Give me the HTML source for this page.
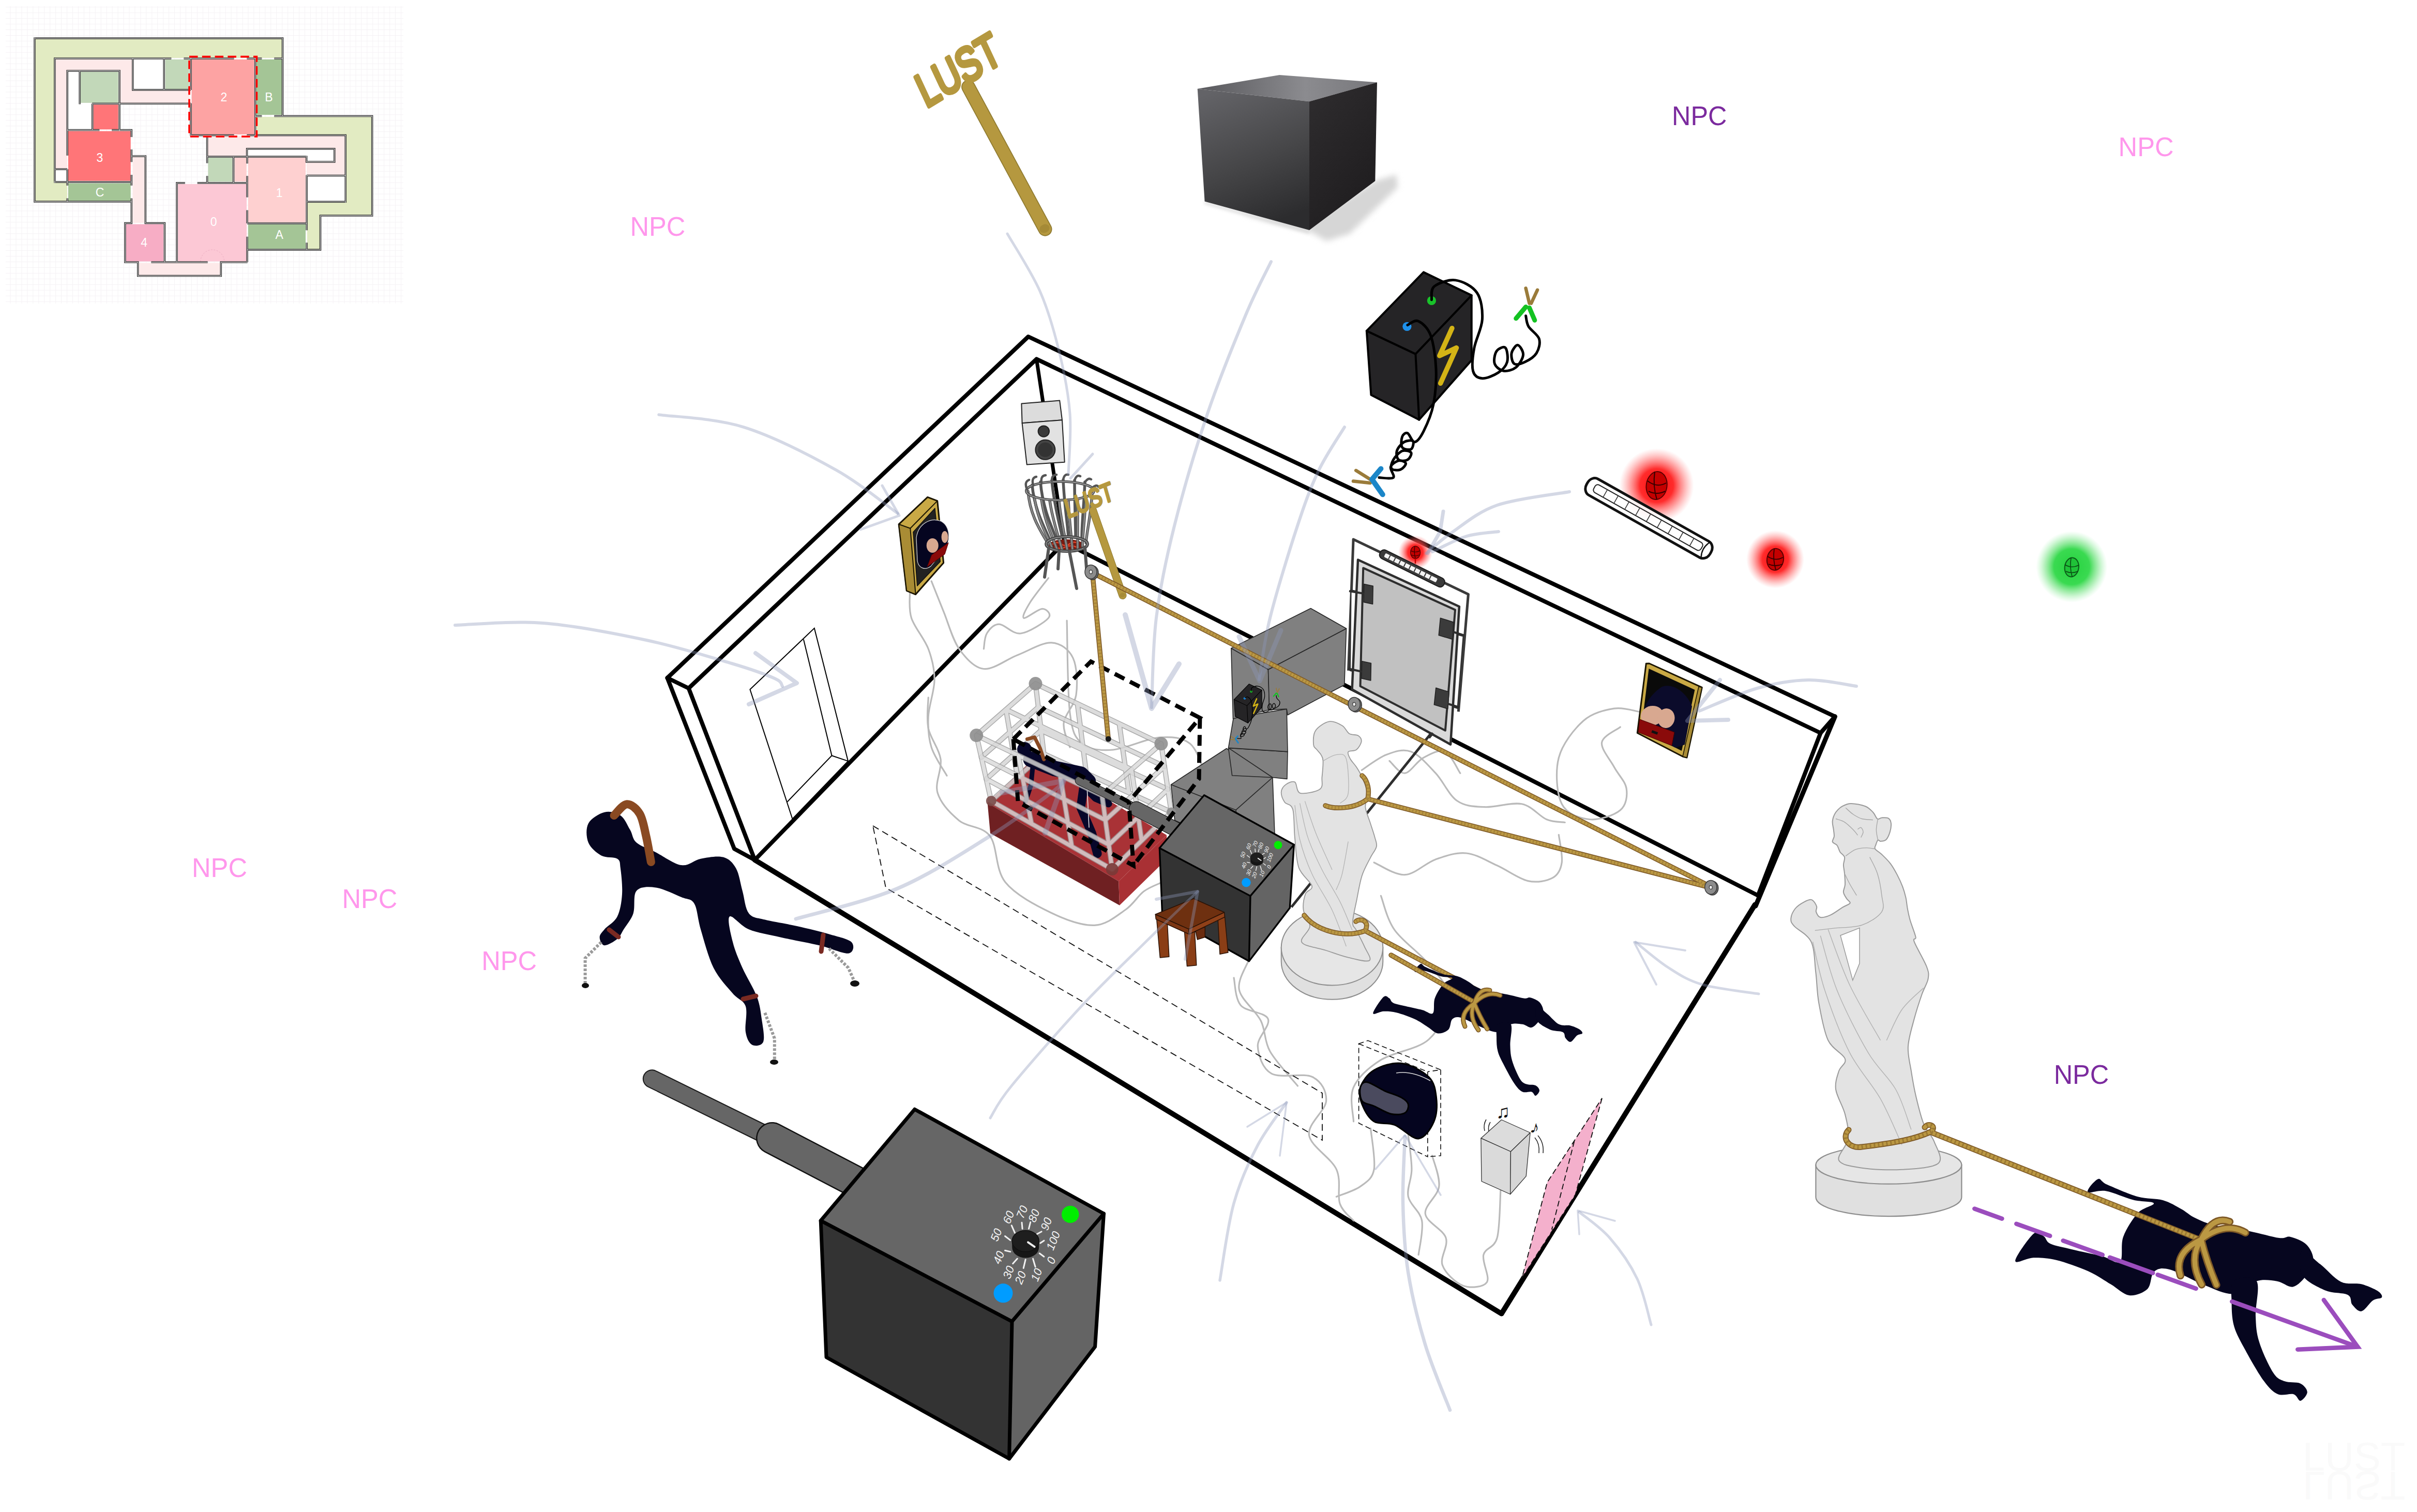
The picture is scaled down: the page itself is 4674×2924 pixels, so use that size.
<!DOCTYPE html>
<html><head><meta charset="utf-8"><title>Room 2 concept</title>
<style>
html,body{margin:0;padding:0;background:#fff}
body{width:4674px;height:2924px;overflow:hidden;position:relative;font-family:"Liberation Sans",sans-serif}
svg{position:absolute;left:0;top:0;display:block}
text{font-family:"Liberation Sans",sans-serif}
</style></head><body>
<svg width="4674" height="2924" viewBox="0 0 4674 2924">
<!-- MINIMAP -->
<defs>
  <pattern id="mgrid" x="8.6" y="2.3" width="10.95" height="10.95" patternUnits="userSpaceOnUse">
    <path d="M0.5 0V10.95M0 0.5H10.95" stroke="#f5f2f5" stroke-width="1" fill="none"/>
  </pattern>
</defs>
<g id="minimap">
  <rect x="11" y="12" width="769" height="575" fill="url(#mgrid)"/>
  <g fill="#e2ebc2">
    <polygon points="68,75 545.5,75 545.5,112 105.9,112 105.9,352 130,352 130,389 68,389"/>
    <polygon points="496,226 718.5,226 718.5,416 619.5,416 619.5,482 594,482 594,391 668.3,391 668.3,261.6 496,261.6"/>
  </g>
  <g fill="#fde9e9">
    <polygon points="107.5,114.5 255.5,114.5 255.5,175 366,175 366,199.5 232,199.5 232,137 130,137 130,326 107.5,326"/>
    <polygon points="402,263 667,263 667,338 593,338 593,313.5 647,313.5 647,287.5 477.6,287.5 477.6,302 402,302"/>
    <rect x="256.5" y="303.5" width="23" height="127.5"/>
    <rect x="268.4" y="508.5" width="157.2" height="23.5"/>
  </g>
  <g fill="#fff">
    <rect x="257.5" y="114.5" width="59.5" height="58.5"/>
    <rect x="131.5" y="138" width="98.5" height="112.5"/>
    <rect x="107.5" y="328" width="22" height="23"/>
    <polygon points="479,289 645.5,289 645.5,312 594,312 594,302 479,302"/>
    <rect x="594.5" y="340.5" width="72.5" height="49"/>
  </g>
  <g fill="#c2d8b9">
    <rect x="155.8" y="138.9" width="72.9" height="60"/>
    <rect x="319.7" y="114.9" width="46" height="57.2"/>
    <rect x="402.3" y="304.9" width="47.2" height="46.4"/>
  </g>
  <g fill="#a4c596">
    <rect x="495.6" y="114.9" width="49.3" height="107.2"/>
    <rect x="131.9" y="354.5" width="120.8" height="34"/>
    <rect x="479.8" y="434" width="111.2" height="46.9"/>
  </g>
  <rect x="370.6" y="114.9" width="120.8" height="145" fill="#fda3a3"/>
  <rect x="131.9" y="253.6" width="120.8" height="96" fill="#ff7578"/>
  <rect x="180.7" y="202.3" width="48" height="48" fill="#ff7578"/>
  <rect x="479.8" y="304.9" width="111.2" height="125.2" fill="#fed0d0"/>
  <rect x="453.6" y="304.9" width="23.2" height="46.1" fill="#fed0d0"/>
  <rect x="344.2" y="355.9" width="132.8" height="149.6" fill="#fcc8d5"/>
  <rect x="243.9" y="433.6" width="72.1" height="71.9" fill="#f7adc5"/>
  <path d="M387.7,506 A23,23 0 0 1 433.7,506" fill="none" stroke="#e7a6bd" stroke-width="0.8" stroke-dasharray="3 2.5"/>
  <g id="mwalls" fill="none" stroke-linejoin="miter" stroke-linecap="butt">
    <g id="mw1" stroke="#2b2b2b" stroke-width="3.5">
      <path id="mwp" d="M67,74H546.5V224.6H719.7V417.1H619.5V483H478.5 M478.5,507.1H427.3V533.6H266.7V507.1H241.9V431.5H254.3V390.1H67V72.3
      M105.9,353.7V112.9H331.3 M355.5,112.9H452.5 M477.4,112.9H506.3 M530.3,112.9H546.5
      M369,111.2V174.1 M369,199.8V263.2 M367.3,261.5H452.5 M477.4,261.5H668.3V392 M493.6,112.9V261.5 M493.6,224.6H506.3 M530.3,224.6H546.5
      M256.8,112.9V173.8H369 M317.2,112.9V173.8
      M130.2,300.8V136.9H231.1V253.3 M154.2,136.9V201.4 M178.2,200.6H369 M178.7,200.6V251.6
      M130.2,251.6H192.3 M216.2,251.6H254.3V265.1 M254.3,289.1V313.2 M254.3,338V358.7 M254.3,383.5V431.5
      M130.2,327.2V358.7 M130.2,383.5V390.1 M104.2,352H255 M105.9,327.2H130.2
      M254.3,301.9H281.3V431.5H318.4V507.1 M292.4,507.1H401.6 M342,507.1V353.7H357.8 M381.7,353.7H478
      M400.6,263.2V315.4 M400.6,340.2V353.7 M400.6,303H477.6 M451.5,303V353.9
      M478,303V316.2 M478,340.2V381.6 M478,406.4V432 M478,457.7V507.1 M478,432H592.7
      M593.2,338.5V445.3 M593.2,469.3V483 M593.2,339.4H668.3 M593.2,390.3H668.3
      M592.7,303H477.6V287.7H646.8V312.9H592.7V301.3"/>
    </g>
    <use href="#mwp" stroke="#d9d9d9" stroke-width="1.1"/>
  </g>
  <rect x="366" y="109.6" width="130.4" height="154.4" fill="none" stroke="#ff0000" stroke-width="3.6" stroke-dasharray="16.5 8.3"/>
  <g fill="#fff" font-size="23" text-anchor="middle" font-family="'Liberation Sans',sans-serif">
    <text x="433" y="196">2</text>
    <text x="520" y="196">B</text>
    <text x="193" y="313.2">3</text>
    <text x="193" y="380.2">C</text>
    <text x="540.2" y="380.7">1</text>
    <text x="413.2" y="436.5">0</text>
    <text x="540.2" y="461.5">A</text>
    <text x="278.6" y="477">4</text>
  </g>
</g>

<!-- ROOM OUTLINE -->
<g id="room" fill="none" stroke="#000" stroke-width="8" stroke-linejoin="round" stroke-linecap="round">
  <polyline points="1290.5,1311 1988.5,651 3548.4,1385.7"/>
  <polyline points="1331.7,1331 2004.4,694.4 3520.6,1417.5"/>
  <polyline points="1331.7,1331 1290.5,1311 1420,1641.6 1459.6,1663 1331.7,1331"/>
  <line x1="2004.4" y1="694.4" x2="2058" y2="1049" stroke-width="7"/>
  <polyline points="1459.6,1663 2058,1049 3399.6,1731.7"/>
  <polyline points="1459.6,1663 2903.6,2540.5 3393.7,1749.6" stroke-width="10"/>
  <polyline points="3548.4,1385.7 3395,1752" stroke-width="9"/>
  <polyline points="3548.4,1385.7 3520.6,1417.5 3399.6,1731.7"/>
</g>
<!-- door on left wall -->
<g id="door" fill="none" stroke="#000" stroke-width="2">
  <polygon points="1450.4,1333.3 1574.8,1214.9 1640,1471.9 1532.4,1583.7"/>
  <polyline points="1553.9,1236.4 1608.5,1461.3 1522.5,1550.6"/>
  <line x1="1608.5" y1="1461.3" x2="1640" y2="1471.9"/>
</g>

<!-- CUBE (top) -->
<defs>
  <linearGradient id="cubeTop" x1="0" y1="0" x2="1" y2="0">
    <stop offset="0" stop-color="#58585c"/><stop offset="0.6" stop-color="#8b8b8f"/><stop offset="1" stop-color="#77777b"/>
  </linearGradient>
  <linearGradient id="cubeLeft" x1="0.2" y1="0" x2="0.5" y2="1">
    <stop offset="0" stop-color="#636367"/><stop offset="0.55" stop-color="#464648"/><stop offset="1" stop-color="#2c2c2e"/>
  </linearGradient>
  <linearGradient id="cubeRight" x1="0" y1="0" x2="0.6" y2="1">
    <stop offset="0" stop-color="#2f2d2f"/><stop offset="1" stop-color="#1f1d1f"/>
  </linearGradient>
  <filter id="blur6" x="-20%" y="-20%" width="140%" height="140%"><feGaussianBlur stdDeviation="6"/></filter>
  <filter id="blur3" x="-20%" y="-20%" width="140%" height="140%"><feGaussianBlur stdDeviation="3"/></filter>
  <radialGradient id="glowR"><stop offset="0" stop-color="#ff1010" stop-opacity="1"/><stop offset="0.45" stop-color="#ff2020" stop-opacity="0.95"/><stop offset="0.7" stop-color="#ff5050" stop-opacity="0.55"/><stop offset="1" stop-color="#ff8080" stop-opacity="0"/></radialGradient>
  <radialGradient id="glowG"><stop offset="0" stop-color="#25d23e" stop-opacity="1"/><stop offset="0.5" stop-color="#30d848" stop-opacity="0.95"/><stop offset="0.75" stop-color="#60e070" stop-opacity="0.5"/><stop offset="1" stop-color="#90f0a0" stop-opacity="0"/></radialGradient>
</defs>
<g id="cube">
  <polygon points="2659,350 2700,338 2703,362 2610,452 2565,466 2532,447 2400,414 2532,430" fill="#d6d6d6" filter="url(#blur6)"/>
  <polygon points="2329.6,389.4 2532,444.9 2532,452 2329,394" fill="#d8d8d8" filter="url(#blur3)"/>
  <polygon points="2315.7,171.8 2474.1,144.9 2663,159.3 2532,196.3" fill="url(#cubeTop)"/>
  <polygon points="2315.7,171.8 2532,196.3 2532,444.9 2329.6,389.4" fill="url(#cubeLeft)"/>
  <polygon points="2532,196.3 2663,159.3 2659.3,350 2532,444.9" fill="url(#cubeRight)"/>
</g>
<!-- BRANDING IRON (top) -->
<g id="iron1">
  <line x1="1872.6" y1="168.1" x2="2021" y2="443.1" stroke="#8f7a30" stroke-width="27" stroke-linecap="round"/>
  <line x1="1872.6" y1="168.1" x2="2021" y2="443.1" stroke="#b5983f" stroke-width="23.5" stroke-linecap="round"/>
  <ellipse cx="2020" cy="442" rx="10" ry="8" fill="#a58a36" transform="rotate(-25 2020 442)"/>
  <text transform="translate(1791,209) rotate(-31) skewX(-6)" font-size="90" font-family="'Liberation Sans',sans-serif" fill="#b5983f" stroke="#b5983f" stroke-width="8" stroke-linejoin="round" textLength="176" lengthAdjust="spacingAndGlyphs">LUST</text>
</g>
<!-- BATTERY -->
<g id="battery1" stroke-linejoin="round" stroke-linecap="round">
  <polygon points="2752.9,526.4 2845.7,571.1 2845.7,696.6 2744.3,811.8 2651.4,763.7 2642.8,639.9" fill="#252426" stroke="#000" stroke-width="4"/>
  <polyline points="2642.8,639.9 2737.4,684.6 2845.7,571.1" fill="none" stroke="#000" stroke-width="4"/>
  <line x1="2737.4" y1="684.6" x2="2744.3" y2="811.8" stroke="#000" stroke-width="4"/>
  <polyline points="2807.9,634.7 2783.8,688.0 2816.5,672.6 2785.6,741.3" fill="none" stroke="#d4b416" stroke-width="9.5"/>
  <circle cx="2768.4" cy="581.4" r="8.6" fill="#19c22a"/>
  <circle cx="2720.9" cy="631.3" r="8.6" fill="#1e90ea"/>
  <path fill="none" stroke="#000" stroke-width="5" d="M2768.4,579.7C2769.2,575.4 2765.8,560.2 2773.5,553.9C2781.2,547.6 2801.0,539.9 2814.8,541.9C2828.6,543.9 2847.5,553.4 2856.1,566.0C2864.7,578.6 2867.3,599.8 2866.4,617.6C2865.5,635.4 2853.9,656.0 2850.9,672.6C2847.9,689.2 2845.9,707.4 2848.5,717.3C2851.1,727.1 2858.3,731.1 2866.4,731.7C2874.5,732.3 2889.3,726.0 2897.3,720.7C2905.3,715.4 2912.2,708.1 2914.5,700.1C2916.8,692.1 2914.5,676.1 2911.1,672.6C2907.7,669.1 2897.3,674.2 2893.9,679.4C2890.5,684.5 2888.1,697.2 2890.4,703.5C2892.7,709.8 2900.7,716.1 2907.6,717.3C2914.5,718.4 2925.4,715.6 2931.7,710.4C2938.0,705.2 2944.9,693.5 2945.5,686.3C2946.1,679.1 2938.8,668.0 2935.1,667.4C2931.4,666.8 2924.2,676.9 2923.1,682.9C2922.0,688.9 2924.0,700.6 2928.3,703.5C2932.6,706.4 2941.7,703.5 2948.9,700.1C2956.1,696.7 2966.7,690.4 2971.3,682.9C2975.9,675.4 2979.0,664.0 2976.4,655.4C2973.8,646.8 2960.1,638.8 2955.8,631.3C2951.5,623.8 2951.5,614.1 2950.6,610.7"/>
  <path fill="none" stroke="#000" stroke-width="5" d="M2721.9,628.6C2725.3,627.3 2735.2,617.7 2742.6,621.0C2750.0,624.3 2760.9,633.0 2766.6,648.5C2772.3,664.0 2776.1,691.4 2777.0,713.8C2777.9,736.1 2775.8,762.5 2771.8,782.6C2767.8,802.7 2758.9,822.2 2752.9,834.2C2746.9,846.2 2740.9,854.2 2735.7,854.8C2730.5,855.4 2725.9,839.3 2721.9,837.6C2717.9,835.9 2713.3,839.9 2711.6,844.5C2709.9,849.1 2708.7,861.1 2711.6,865.1C2714.5,869.1 2725.4,870.6 2728.8,868.6C2732.2,866.6 2734.6,855.4 2732.3,853.1C2730.0,850.8 2720.3,851.6 2715.1,854.8C2709.9,857.9 2703.0,866.3 2701.3,872.0C2699.6,877.7 2701.3,886.3 2704.7,889.2C2708.1,892.1 2717.9,891.5 2721.9,889.2C2725.9,886.9 2730.5,878.4 2728.8,875.5C2727.1,872.6 2717.3,869.7 2711.6,872.0C2705.9,874.3 2697.8,883.5 2694.4,889.2C2691.0,894.9 2688.7,903.2 2691.0,906.4C2693.3,909.5 2703.6,909.8 2708.2,908.1C2712.8,906.4 2719.1,899.0 2718.5,896.1C2717.9,893.2 2709.6,889.8 2704.7,890.9C2699.8,892.0 2691.0,897.5 2689.3,903.0C2687.6,908.5 2698.1,920.2 2694.4,923.6C2690.7,927.0 2671.5,923.6 2666.9,923.6"/>
  <!-- green clamp -->
  <g fill="none" stroke-width="6.5" stroke="#9a7b3a"><line x1="2950.6" y1="557.4" x2="2957.5" y2="586.6"/><line x1="2973" y1="560.8" x2="2961" y2="586.6"/></g>
  <g fill="none" stroke-width="9" stroke="#14c222"><line x1="2950.6" y1="593.5" x2="2931.7" y2="615.8"/><line x1="2957.5" y1="595.2" x2="2967.8" y2="619.3"/></g>
  <!-- blue clamp -->
  <g fill="none" stroke-width="6.5" stroke="#9a7b3a"><line x1="2622.2" y1="909.8" x2="2649.7" y2="927"/><line x1="2617" y1="930.5" x2="2649.7" y2="933.9"/></g>
  <polyline points="2670.4,906.4 2653.2,927 2673.8,956.3" fill="none" stroke="#1b86c8" stroke-width="10"/>
</g>
<!-- LED STRIP + LIGHTS -->
<g id="lights">
  <circle cx="3203.6" cy="939" r="72" fill="url(#glowR)"/>
  <g transform="translate(3076.1,939) rotate(29.35)">
    <rect x="-8" y="-18" width="274" height="36" rx="14" ry="16" fill="#fff" fill-opacity="0.85" stroke="#111" stroke-width="5"/>
    <rect x="8" y="-9" width="238" height="17" rx="6" fill="none" stroke="#222" stroke-width="2"/>
    <path d="M32,-9V8M56,-9V8M80,-9V8M104,-9V8M128,-9V8M152,-9V8M176,-9V8M200,-9V8M224,-9V8" stroke="#333" stroke-width="1.6" fill="none"/>
    <path d="M254,-16 Q246,0 254,16" stroke="#111" stroke-width="2.5" fill="none"/>
  </g>
  <g id="bulbR1"><ellipse cx="3203.6" cy="939" rx="20" ry="27" fill="#c40000" stroke="#5a0000" stroke-width="2" transform="rotate(8 3203.6 939)"/><path d="M3186,930 Q3204,944 3222,934 M3200,912 Q3196,940 3204,966 M3188,950 Q3204,958 3220,950" stroke="#300" stroke-width="2" fill="none"/></g>
  <circle cx="3433" cy="1081.7" r="56" fill="url(#glowR)"/>
  <g><ellipse cx="3433" cy="1081.7" rx="16" ry="21" fill="#c40000" stroke="#5a0000" stroke-width="2" transform="rotate(8 3433 1081.7)"/><path d="M3418,1076 Q3433,1086 3448,1078 M3431,1061 Q3428,1082 3434,1102 M3420,1091 Q3433,1097 3447,1091" stroke="#300" stroke-width="1.8" fill="none"/></g>
  <circle cx="4006.3" cy="1096" r="69" fill="url(#glowG)"/>
  <g><ellipse cx="4006.3" cy="1097" rx="13.5" ry="18.5" fill="#1fc238" stroke="#0b5a18" stroke-width="2" transform="rotate(8 4006.3 1097)"/><path d="M3993,1092 Q4006,1100 4020,1093 M4005,1079 Q4002,1097 4007,1115 M3995,1105 Q4006,1110 4018,1105" stroke="#0b4a14" stroke-width="1.6" fill="none"/></g>
</g>
<!-- NPC LABELS -->
<g id="npc" font-size="52.2" font-family="'Liberation Sans',sans-serif">
  <text x="3233" y="241.9" fill="#7b2a9e" textLength="106.5" lengthAdjust="spacingAndGlyphs">NPC</text>
  <text x="3971.7" y="2096.3" fill="#7b2a9e" textLength="106.5" lengthAdjust="spacingAndGlyphs">NPC</text>
  <text x="4096.6" y="302.2" fill="#ff97ec" textLength="107" lengthAdjust="spacingAndGlyphs">NPC</text>
  <text x="1218.4" y="456.3" fill="#ff97ec" textLength="107" lengthAdjust="spacingAndGlyphs">NPC</text>
  <text x="371" y="1696.1" fill="#ff97ec" textLength="107" lengthAdjust="spacingAndGlyphs">NPC</text>
  <text x="661.4" y="1756" fill="#ff97ec" textLength="107" lengthAdjust="spacingAndGlyphs">NPC</text>
  <text x="931.2" y="1875.9" fill="#ff97ec" textLength="107" lengthAdjust="spacingAndGlyphs">NPC</text>
</g>

<!-- WIRES -->
<g id="wires" fill="none" stroke="#bababa" stroke-width="3.2" stroke-linecap="round">
<path d="M1759.5,1144.6C1760.0,1153.0 1756.5,1176.8 1762.5,1195.2C1768.5,1213.6 1787.8,1235.0 1795.2,1254.8C1802.6,1274.6 1807.1,1292.5 1807.1,1314.3C1807.1,1336.1 1796.2,1363.9 1795.2,1385.7C1794.2,1407.5 1795.2,1426.2 1801.2,1445.2C1807.2,1464.2 1826.0,1490.9 1831.0,1500.0"/>
<path d="M1801.2,1123.8C1805.2,1133.7 1816.1,1161.5 1825.0,1183.3C1833.9,1205.1 1841.9,1236.4 1854.8,1254.8C1867.7,1273.2 1883.6,1291.5 1902.4,1293.5C1921.2,1295.5 1946.1,1275.1 1967.9,1266.7C1989.7,1258.3 2015.5,1241.9 2033.3,1242.9C2051.2,1243.9 2067.1,1255.8 2075.0,1272.6C2082.9,1289.4 2084.0,1323.2 2081.0,1344.0C2078.0,1364.8 2059.1,1380.7 2057.1,1397.6C2055.1,1414.5 2067.0,1437.3 2069.0,1445.2"/>
<path d="M2027.4,1117.9C2021.5,1125.8 1999.6,1152.6 1991.7,1165.5C1983.8,1178.4 1975.8,1193.2 1979.8,1195.2C1983.8,1197.2 2007.6,1177.4 2015.5,1177.4C2023.4,1177.4 2034.4,1187.3 2027.4,1195.2C2020.5,1203.1 1989.7,1223.0 1973.8,1225.0C1957.9,1227.0 1943.0,1207.1 1932.1,1207.1C1921.2,1207.1 1913.2,1217.0 1908.3,1225.0C1903.3,1233.0 1903.4,1249.8 1902.4,1254.8"/>
<path d="M1795.2,1348.8C1795.2,1358.7 1791.2,1388.4 1795.2,1408.3C1799.2,1428.2 1816.0,1447.1 1819.0,1467.9C1822.0,1488.7 1807.1,1513.5 1813.1,1533.3C1819.1,1553.1 1837.9,1573.0 1854.8,1586.9C1871.7,1600.8 1899.4,1596.9 1914.3,1616.7C1929.2,1636.5 1924.2,1681.2 1944.0,1706.0C1963.8,1730.8 2004.5,1751.6 2033.3,1765.5C2062.1,1779.4 2092.9,1790.3 2116.7,1789.3C2140.5,1788.3 2160.3,1770.4 2176.2,1759.5C2192.1,1748.6 2200.0,1732.7 2211.9,1723.8C2223.8,1714.9 2241.7,1709.0 2247.6,1706.0"/>
<path d="M2063.1,1200.0C2064.1,1229.8 2064.0,1338.9 2069.0,1378.6C2074.0,1418.3 2079.0,1426.2 2092.9,1438.1C2106.8,1450.0 2127.6,1452.0 2152.4,1450.0C2177.2,1448.0 2216.9,1428.2 2241.7,1426.2C2266.5,1424.2 2286.3,1426.2 2301.2,1438.1C2316.1,1450.0 2326.0,1487.7 2331.0,1497.6"/>
<path d="M2414.3,1857.7C2411.3,1867.1 2392.4,1895.0 2396.4,1914.3C2400.4,1933.6 2428.2,1954.0 2438.1,1973.8C2448.0,1993.6 2444.1,2012.3 2456.0,2033.3C2467.9,2054.3 2500.6,2088.9 2509.5,2100.0"/>
<path d="M3169.0,1376.2C3161.1,1375.2 3139.2,1367.2 3121.4,1370.2C3103.6,1373.2 3079.8,1378.1 3061.9,1394.0C3044.1,1409.9 3021.2,1438.7 3014.3,1465.5C3007.4,1492.3 3010.3,1535.0 3020.2,1554.8C3030.1,1574.6 3055.0,1582.5 3073.8,1584.5C3092.7,1586.5 3121.4,1576.6 3133.3,1566.7C3145.2,1556.8 3147.2,1538.9 3145.2,1525.0C3143.2,1511.1 3129.3,1498.2 3121.4,1483.3C3113.5,1468.4 3095.6,1448.6 3097.6,1435.7C3099.6,1422.8 3127.4,1411.0 3133.3,1406.0"/>
<path d="M2633.3,1489.3C2641.2,1484.3 2665.1,1465.5 2681.0,1459.5C2696.9,1453.5 2712.7,1447.6 2728.6,1453.6C2744.5,1459.5 2761.3,1479.3 2776.2,1495.2C2791.1,1511.1 2802.0,1537.9 2817.9,1548.8C2833.8,1559.7 2850.6,1559.7 2871.4,1560.7C2892.2,1561.7 2923.1,1550.8 2942.9,1554.8C2962.8,1558.8 2976.6,1578.5 2990.5,1584.5C3004.4,1590.5 3020.2,1589.5 3026.2,1590.5"/>
<path d="M2657.1,1667.9C2667.0,1671.9 2696.8,1692.7 2716.7,1691.7C2736.5,1690.7 2756.4,1668.9 2776.2,1661.9C2796.0,1655.0 2815.9,1648.0 2835.7,1650.0C2855.5,1652.0 2875.3,1664.9 2895.2,1673.8C2915.0,1682.7 2936.9,1699.6 2954.8,1703.6C2972.7,1707.6 2991.5,1703.5 3002.4,1697.6C3013.3,1691.6 3018.2,1681.8 3020.2,1667.9C3022.2,1654.0 3015.3,1623.2 3014.3,1614.3"/>
<path d="M2686.9,1471.4C2691.9,1475.4 2705.8,1496.2 2716.7,1495.2C2727.6,1494.2 2739.5,1472.4 2752.4,1465.5C2765.3,1458.6 2782.1,1448.6 2794.0,1453.6C2805.9,1458.5 2818.8,1488.3 2823.8,1495.2"/>
<path d="M2386.0,1891.0C2388.2,1899.8 2388.2,1930.7 2399.2,1943.9C2410.2,1957.1 2446.6,1957.2 2452.1,1970.4C2457.6,1983.6 2431.2,2005.7 2432.3,2023.3C2433.4,2040.9 2441.1,2066.3 2458.7,2076.2C2476.3,2086.1 2520.4,2074.0 2538.1,2082.8C2555.8,2091.6 2565.7,2110.4 2564.6,2129.1C2563.5,2147.8 2528.2,2173.1 2531.5,2195.2C2534.8,2217.2 2574.5,2239.3 2584.4,2261.4C2594.3,2283.5 2585.5,2311.0 2591.0,2327.5C2596.5,2344.0 2613.1,2355.1 2617.5,2360.6"/>
<path d="M2670.4,1732.3C2674.8,1743.3 2681.4,1776.4 2696.8,1798.4C2712.2,1820.5 2745.4,1842.5 2763.0,1864.6C2780.6,1886.6 2802.6,1906.5 2802.6,1930.7C2802.6,1955.0 2785.0,1990.3 2763.0,2010.1C2741.0,2029.9 2694.7,2034.3 2670.4,2049.7C2646.2,2065.1 2626.3,2082.8 2617.5,2102.6C2608.7,2122.4 2617.5,2157.8 2617.5,2168.8"/>
<path d="M2650.5,2182.0C2651.6,2195.2 2660.4,2242.7 2657.1,2261.4C2653.8,2280.1 2642.8,2285.6 2630.7,2294.4C2618.6,2303.2 2592.1,2311.0 2584.4,2314.3"/>
<path d="M2769.6,2234.9C2771.8,2244.8 2785.0,2275.7 2782.8,2294.4C2780.6,2313.2 2754.1,2330.9 2756.3,2347.4C2758.5,2363.9 2790.5,2377.2 2796.0,2393.7C2801.5,2410.2 2783.9,2431.2 2789.4,2446.6C2794.9,2462.0 2814.8,2480.7 2829.1,2486.2C2843.4,2491.7 2868.8,2489.5 2875.4,2479.6C2882.0,2469.7 2865.5,2441.0 2868.8,2426.7C2872.1,2412.4 2889.7,2414.6 2895.2,2393.7C2900.7,2372.8 2900.8,2316.5 2901.9,2301.1"/>
<path d="M2723.3,2195.2C2724.4,2206.2 2729.9,2241.6 2729.9,2261.4C2729.9,2281.2 2720.0,2297.8 2723.3,2314.3C2726.6,2330.8 2746.4,2341.9 2749.7,2360.6C2753.0,2379.3 2744.2,2415.7 2743.1,2426.7"/>
</g>

<!-- ROOM OBJECTS A: speaker, basket, iron2, paintings, duct, door -->
<defs>
  <g id="rope-def"></g>
</defs>
<!-- speaker -->
<g id="speaker" stroke="#222" stroke-width="2" stroke-linejoin="round">
  <polygon points="1975.4,780.6 2049.2,774.6 2054,812.3 1976.6,818.3" fill="#dcdcdc"/>
  <polygon points="1976.6,818.3 2054,812.3 2058.7,893.7 1985.7,898.4" fill="#e2e2e2"/>
  <circle cx="2018.3" cy="834.1" r="10.7" fill="#3a3a3a"/>
  <circle cx="2021.4" cy="869.8" r="19" fill="#444"/>
  <circle cx="2021.4" cy="869.8" r="14" fill="#333" stroke="none"/>
</g>
<!-- fire basket -->
<g id="basket" fill="none" stroke-linecap="round">
  <ellipse cx="2062" cy="1054" rx="34" ry="11" fill="#7a1a10" stroke="none"/>
  <path d="M2036,1052q8,-6 16,0t16,0t16,-2M2040,1058q10,5 20,0t22,0" stroke="#e0452a" stroke-width="2.5"/>
  <g stroke="#555" stroke-width="5.5">
    <path d="M1988,950 C1992,1000 2015,1030 2027,1052"/><path d="M2000,960 C2006,1005 2025,1035 2034,1058"/>
    <path d="M2014,966 C2020,1010 2036,1040 2044,1062"/><path d="M2030,968 C2036,1010 2048,1040 2054,1064"/>
    <path d="M2048,969 C2052,1010 2060,1040 2064,1064"/><path d="M2066,968 C2068,1010 2072,1040 2074,1063"/>
    <path d="M2084,965 C2084,1005 2084,1035 2084,1060"/><path d="M2100,960 C2098,1000 2094,1030 2093,1056"/>
    <path d="M2112,952 C2110,995 2102,1025 2100,1050"/>
    <path d="M1996,938 C2000,985 2020,1020 2030,1044"/><path d="M2012,932 C2016,980 2032,1015 2042,1040"/>
    <path d="M2034,929 C2038,975 2048,1010 2054,1038"/><path d="M2056,928 C2058,975 2064,1010 2066,1038"/>
    <path d="M2078,929 C2078,975 2080,1010 2080,1038"/><path d="M2098,932 C2096,980 2092,1010 2092,1040"/>
  </g>
  <g stroke="#8c8c8c" stroke-width="2.5">
    <path d="M1988,950 C1992,1000 2015,1030 2027,1052"/><path d="M2000,960 C2006,1005 2025,1035 2034,1058"/>
    <path d="M2014,966 C2020,1010 2036,1040 2044,1062"/><path d="M2030,968 C2036,1010 2048,1040 2054,1064"/>
    <path d="M2048,969 C2052,1010 2060,1040 2064,1064"/><path d="M2066,968 C2068,1010 2072,1040 2074,1063"/>
    <path d="M2084,965 C2084,1005 2084,1035 2084,1060"/><path d="M2100,960 C2098,1000 2094,1030 2093,1056"/>
    <path d="M2112,952 C2110,995 2102,1025 2100,1050"/>
  </g>
  <ellipse cx="2050" cy="949.2" rx="65.5" ry="18" stroke="#4a4a4a" stroke-width="5"/>
  <ellipse cx="2050" cy="949.2" rx="65.5" ry="18" stroke="#999" stroke-width="2"/>
  <ellipse cx="2063" cy="1052" rx="40" ry="14" stroke="#444" stroke-width="6"/>
  <ellipse cx="2063" cy="1052" rx="40" ry="14" stroke="#888" stroke-width="2"/>
  <g stroke="#555" stroke-width="6"><path d="M2028,1060 L2020,1116"/><path d="M2068,1066 L2082,1138"/><path d="M2098,1058 L2102,1112"/><path d="M2048,1066 L2046,1100"/></g>
  <g stroke="#555" stroke-width="4.5"><path d="M1986,946q-6,-14 4,-18M1998,938q-4,-14 6,-16M2014,933q-2,-13 8,-14M2034,930q0,-12 9,-12M2056,928q2,-12 10,-10M2078,929q4,-12 11,-8M2098,933q6,-10 12,-6M2112,944q8,-8 12,-3"/></g>
</g>
<!-- iron 2 in basket -->
<use href="#iron1" transform="translate(2113.5,986.9) rotate(9.1) scale(0.558) translate(-1872.6,-168.1)"/>
<!-- painting left -->
<g id="paintL" stroke-linejoin="round">
  <polygon points="1738.1,1013.8 1793.7,961.4 1812.7,968.6 1824.6,1088.4 1770.6,1149.5 1753.2,1142.4" fill="#c9a945" stroke="#1a1400" stroke-width="3"/>
  <polygon points="1738.1,1013.8 1760.3,1021.7 1770.6,1149.5 1753.2,1142.4" fill="#a98c35" stroke="#1a1400" stroke-width="2"/>
  <polyline points="1760.3,1021.7 1812.7,968.6" fill="none" stroke="#1a1400" stroke-width="2"/>
  <polygon points="1765.9,1028.9 1807.9,982.9 1818.3,1086 1773.8,1132.9" fill="#222" stroke="#111" stroke-width="1.5"/>
  <path d="M1772,1040 C1776,1012 1800,1000 1820,1008 C1838,1018 1838,1045 1828,1060 L1800,1095 C1788,1104 1776,1098 1774,1084 Z" fill="#050520" stroke="#ddd" stroke-width="1.2"/>
  <ellipse cx="1803.2" cy="1055" rx="11.5" ry="14" fill="#d8a890"/>
  <ellipse cx="1827" cy="1038.4" rx="6.5" ry="11.5" fill="#d8a890"/>
  <polygon points="1801.6,1073.3 1834.1,1049.5 1827,1071.7 1792.9,1096.3" fill="#8a0a0a" stroke="#500" stroke-width="1"/>
</g>
<!-- painting right -->
<g id="paintR" stroke-linejoin="round">
  <polygon points="3183.3,1283.3 3189.3,1283 3291.3,1329.4 3262,1465.1 3254,1463 3166.3,1417.5" fill="#c9a945" stroke="#1a1400" stroke-width="3"/>
  <polygon points="3285,1328 3291.3,1329.4 3262,1465.1 3254,1463" fill="#a98c35" stroke="#1a1400" stroke-width="1.5"/>
  <polygon points="3188.5,1293 3277.4,1334 3252,1452 3173.8,1412.7" fill="#0a0a0a"/>
  <path d="M3176,1390 C3178,1360 3196,1340 3214,1328 C3236,1320 3262,1340 3272,1366 L3258,1440 L3240,1446 L3176,1412 Z" fill="#0b0b2b"/>
  <ellipse cx="3195" cy="1384" rx="22" ry="19" fill="#d8a890" transform="rotate(-10 3195 1384)"/>
  <ellipse cx="3222" cy="1389" rx="16.5" ry="19" fill="#d8a890" transform="rotate(8 3222 1389)"/>
  <polygon points="3170.6,1391 3238,1416 3233,1442 3168,1416" fill="#8a0a0a" stroke="#400" stroke-width="1"/>
  <rect x="3194" y="1414" width="12" height="5" fill="#111" transform="rotate(20 3200 1416)"/>
</g>
<!-- gray duct -->
<g id="duct" fill="#808080" stroke="#262626" stroke-width="1.6" stroke-linejoin="round">
  <polygon points="2264.5,1517.3 2371.8,1447.5 2460.9,1503.5 2465.3,1622.7 2395.5,1622.7 2284,1592 2271.8,1586.4"/>
  <polyline points="2264.5,1517.3 2390.0,1566.4 2460.9,1503.5" fill="none"/>
  <line x1="2390" y1="1566.4" x2="2393" y2="1600"/>
  <polygon points="2375.5,1446.4 2490.0,1453.6 2488.9,1506.4 2460.9,1503.5 2382.7,1499.8"/>
  <line x1="2375.5" y1="1446.4" x2="2460.9" y2="1503.5"/>
  <polygon points="2385.3,1388.2 2488.2,1371.1 2490.0,1453.6 2375.5,1446.4"/>
  <polygon points="2380.9,1253.6 2452.5,1294.7 2454.7,1372.5 2384.5,1390.0"/>
  <polygon points="2452.5,1294.7 2603.5,1215.5 2599.8,1324.5 2490.0,1382.7 2488.2,1371.1 2454.7,1372.5"/>
  <polygon points="2380.9,1253.6 2534.7,1176.5 2603.5,1215.5 2452.5,1294.7"/>
</g>
<use href="#battery1" transform="translate(2415.5,1322.7) scale(0.265) translate(-2752.9,-526.4)"/>
<!-- door on back wall -->
<g id="mdoor" stroke-linejoin="round">
  <polyline points="2607.6,1296.8 2617.1,1042.9 2839.4,1149.2 2820.3,1376.2" fill="none" stroke="#3a3a3a" stroke-width="5"/>
  <polygon points="2612.4,1141.3 2628.3,1144.4 2625.1,1300.0 2610.8,1296.8" fill="#fff" stroke="#333" stroke-width="2.5"/>
  <polygon points="2814.0,1226.0 2829.8,1230.2 2818.7,1369.8 2804.4,1365.1" fill="#fff" stroke="#333" stroke-width="2.5"/>
  <polygon points="2626.0,1082.5 2821.9,1173.0 2805.1,1439.7 2614.6,1333.3" fill="#dadada" stroke="#2e2e2e" stroke-width="4.5"/>
  <polygon points="2636.2,1098.4 2814.0,1179.4 2794.9,1412.7 2630.5,1327.0" fill="#c1c1c1" stroke="#2e2e2e" stroke-width="4"/>
  <g fill="#3b3b3b" stroke="#222" stroke-width="1.5">
    <polygon points="2637.8,1129.5 2655.2,1133.3 2654.6,1168.3 2637.1,1164.4"/>
    <polygon points="2633.7,1278.7 2651.4,1282.5 2650.8,1315.9 2633.0,1312.1"/>
    <polygon points="2785.4,1195.2 2810.8,1203.2 2809.2,1236.5 2782.2,1228.6"/>
    <polygon points="2776.8,1330.2 2802.2,1338.1 2799.7,1370.8 2773.3,1362.9"/>
  </g>
  <g stroke="#2e2e2e" stroke-width="4"><line x1="2609" y1="1143" x2="2638" y2="1148"/><line x1="2607" y1="1293" x2="2634" y2="1299"/><line x1="2810" y1="1222" x2="2832" y2="1229"/><line x1="2800" y1="1361" x2="2822" y2="1368"/></g>
  <circle cx="2737.1" cy="1068.3" r="33" fill="url(#glowR)"/>
  <g transform="translate(2674.3,1071.4) rotate(26.25)">
    <rect x="-6" y="-9" width="138" height="18" rx="8" fill="#3a3a3a" stroke="#1c1c1c" stroke-width="2"/>
    <rect x="4" y="-4" width="112" height="8" rx="2" fill="#f4f4f4"/>
    <path d="M14,-4V4M25,-4V4M36,-4V4M47,-4V4M58,-4V4M69,-4V4M80,-4V4M91,-4V4M102,-4V4" stroke="#333" stroke-width="2"/>
  </g>
  <ellipse cx="2737.1" cy="1068.3" rx="9.5" ry="12" fill="#c40000" stroke="#5a0000" stroke-width="1.5"/>
  <path d="M2728,1065q9,5 18,0M2736,1056q-2,12 1,24M2729,1073q8,4 16,0" stroke="#300" stroke-width="1.2" fill="none"/>
  <line x1="2737" y1="1080" x2="2737" y2="1090" stroke="#c40000" stroke-width="2.5"/>
</g>

<!-- ROOM OBJECTS B: leg line, platform, cage, figure, rod, dashed, ctrl small, stool, statue, ropes -->
<defs>
  <g id="pulley">
    <ellipse cx="3" cy="1.5" rx="11.5" ry="13.5" fill="#6a6a6a" stroke="#3a3a3a" stroke-width="1.5"/>
    <ellipse cx="0" cy="0" rx="11.5" ry="13.5" fill="#8c8c8c" stroke="#3a3a3a" stroke-width="1.5"/>
    <ellipse cx="0" cy="0" rx="3" ry="3.6" fill="#eee" stroke="#333" stroke-width="1.2"/>
  </g>
</defs>
<!-- strut from door to control box -->
<line x1="2768" y1="1417.5" x2="2497.3" y2="1754.3" stroke="#2e2e2e" stroke-width="5"/>
<polyline points="2771.1,1417.5 2763.2,1427.0" stroke="#2e2e2e" stroke-width="5" fill="none"/>
<!-- platform -->
<g id="platform" stroke-linejoin="round">
  <polygon points="1909.6,1552.5 2002.5,1463.2 2256.1,1615.0 2163.2,1704.3" fill="#a93236"/>
  <polygon points="1909.6,1552.5 2163.2,1704.3 2165.0,1750.7 1915.0,1611.4" fill="#6f2022"/>
  <polygon points="2163.2,1704.3 2256.1,1615.0 2256.1,1661.4 2165.0,1750.7" fill="#a93034"/>
</g>
<!-- cage back -->
<g id="cageback" fill="none" stroke-linecap="round" opacity="0.85">
 <g stroke="#9c9c9c" stroke-width="10">
  <path id="cgb" d="M2002.5,1322.1L2245.4,1438.2M1888.2,1422.1L2002.5,1322.1M2002.5,1322.1L2018.6,1457.9M2018.6,1457.9L2265.0,1570.4M1916.8,1548.9L2018.6,1457.9M2007.9,1367.4L2251.9,1482.3M2013.2,1412.6L2258.5,1526.3M2083.5,1360.8L2100.7,1495.4M2164.4,1399.5L2182.9,1532.9M1897.7,1464.4L2007.9,1367.4M1907.3,1506.6L2013.2,1412.6M1945.3,1372.1L1967.7,1503.4M1945.3,1372.1L2188.2,1488.2"/></g>
  <use href="#cgb" stroke="#d6d6d6" stroke-width="7"/>
</g>
<!-- abstract figure in cage -->
<g id="figcage" fill="none" stroke="#07072a" stroke-linecap="round" stroke-linejoin="round">
  <polyline points="1993.6,1468.6 2040.0,1486.4 2090.0,1497.1 2104.3,1511.4" stroke-width="30"/>
  <polyline points="2097.1,1511.4 2090.0,1561.4 2111.4,1611.4 2122.1,1650.7" stroke-width="17"/>
  <polyline points="2090.0,1515.0 2118.6,1543.6 2143.6,1554.3" stroke-width="14"/>
  <polyline points="1997.1,1482.9 1993.6,1518.6 1982.9,1550.7" stroke-width="9"/>
  <circle cx="1981.1" cy="1448.9" r="14" fill="#07072a" stroke="none"/>
  <polyline points="1986.4,1429.3 2000.7,1425.7 2011.4,1447.1 2018.6,1468.6" stroke="#8a4a22" stroke-width="7"/>
  <line x1="2102" y1="1520" x2="2106" y2="1600" stroke="#eee" stroke-width="1.5"/>
</g>
<!-- rod from small control box (thin part) -->
<g>
  <line x1="2087.3" y1="1509.7" x2="2200" y2="1565" stroke="#222" stroke-width="17" stroke-linecap="round"/>
  <line x1="2087.3" y1="1509.7" x2="2200" y2="1565" stroke="#666" stroke-width="14.5" stroke-linecap="round"/>
</g>
<!-- cage front -->
<g id="cagefront" fill="none" stroke-linecap="round" opacity="0.82">
 <g stroke="#9c9c9c" stroke-width="10">
  <path id="cgf" d="M1888.2,1422.1L2131.1,1538.2M2131.1,1538.2L2245.4,1438.2M1888.2,1422.1L1916.8,1548.9M2131.1,1538.2L2150.7,1681.1M2245.4,1438.2L2265.0,1570.4M1916.8,1548.9L2150.7,1681.1M2150.7,1681.1L2265.0,1570.4M1897.7,1464.4L2137.6,1585.8M1907.3,1506.6L2144.2,1633.5M1969.2,1460.8L1994.8,1593.0M2050.1,1499.5L2072.7,1637.0M2137.6,1585.8L2251.9,1482.3M2144.2,1633.5L2258.5,1526.3M2188.2,1488.2L2207.8,1625.8"/></g>
  <use href="#cgf" stroke="#dadada" stroke-width="7"/>
</g>
<g fill="#8f8f8f" opacity="0.9">
  <circle cx="1888.2" cy="1422.1" r="13"/><circle cx="2002.5" cy="1322.1" r="13"/><circle cx="2245.4" cy="1438.2" r="13"/>
  <circle cx="1916.8" cy="1548.9" r="10" fill="#7a4a48"/><circle cx="2150.7" cy="1681.1" r="12" fill="#7a3a38"/><circle cx="2265" cy="1570.4" r="9"/>
</g>
<!-- thick rod + small control box -->
<use href="#ctrlbox" transform="translate(2328.6,1537.7) scale(0.475) translate(-1768.8,-2145.2)"/>
<!-- dashed black box -->
<g fill="none" stroke="#000" stroke-width="8" stroke-dasharray="21 12" stroke-linejoin="miter">
  <polygon points="1959.6,1429.3 2109.6,1279.3 2320.4,1388.2 2182.9,1550.7"/>
  <polyline points="1959.6,1429.3 1968.6,1550.7 2191.8,1673.9 2182.9,1550.7"/>
  <polyline points="2320.4,1388.2 2318.6,1506.1 2191.8,1673.9"/>
</g>
<!-- stool -->
<g id="stool" stroke="#2a1206" stroke-width="1.5" stroke-linejoin="round">
  <polygon points="2312.1,1800.6 2330.3,1792.3 2330.3,1812.2 2315.4,1817.1" fill="#6a2c10"/>
  <polygon points="2236.7,1777.5 2257.5,1786.7 2260.8,1850.2 2243.3,1851.9" fill="#8a3e16"/>
  <polygon points="2290.6,1802.3 2299.5,1806.6 2310.4,1801.3 2313.7,1866.8 2295.5,1868.4" fill="#8a3e16"/>
  <polygon points="2355.1,1775.8 2368.3,1770.2 2374.9,1842.0 2359.0,1845.3" fill="#8a3e16"/>
  <polygon points="2234.3,1768.2 2298.8,1796.6 2299.5,1806.6 2235.3,1777.5" fill="#7c3613"/>
  <polygon points="2298.8,1796.6 2367.6,1764.2 2368.3,1773.5 2299.5,1806.6" fill="#8f4018"/>
  <polygon points="2234.3,1768.2 2308.1,1737.8 2367.6,1764.2 2298.8,1796.6" fill="#6e3010"/>
</g>
<!-- statue in room -->
<g id="statueR">
  <path d="M2477.7,1832.2 v27.3 a98.3,73.3 0 0 0 196.6,0 v-27.3 z" fill="#e0e0e0" stroke="#8e8e8e" stroke-width="2"/>
  <ellipse cx="2576" cy="1832.2" rx="98.3" ry="73.3" fill="#e6e6e6" stroke="#8e8e8e" stroke-width="2"/>
  <path d="M2570.2,1395.4C2578.8,1393.8 2589.0,1399.3 2595.5,1403.2C2602.0,1407.1 2604.0,1415.5 2609.2,1418.8C2614.4,1422.0 2622.8,1420.1 2626.7,1422.7C2630.6,1425.3 2633.2,1429.9 2632.6,1434.4C2631.9,1439.0 2627.0,1446.8 2622.8,1450.0C2618.6,1453.2 2609.1,1451.0 2607.2,1453.9C2605.2,1456.8 2608.5,1462.6 2611.1,1467.5C2613.7,1472.4 2619.0,1477.2 2622.8,1483.1C2626.6,1488.9 2630.1,1494.1 2633.7,1502.6C2637.3,1511.0 2643.2,1524.0 2644.3,1533.8C2645.4,1543.5 2639.4,1551.3 2640.4,1561.1C2641.4,1570.8 2647.1,1582.5 2650.1,1592.3C2653.1,1602.0 2656.8,1612.1 2658.7,1619.6C2660.6,1627.1 2663.2,1630.7 2661.8,1637.2C2660.4,1643.7 2654.8,1649.2 2650.1,1658.6C2645.4,1668.0 2638.1,1680.0 2633.7,1693.7C2629.3,1707.4 2626.6,1725.5 2623.6,1740.5C2620.6,1755.5 2615.9,1773.7 2615.8,1783.4C2615.7,1793.2 2619.0,1791.2 2622.8,1799.0C2626.6,1806.8 2634.2,1820.5 2638.4,1830.2C2642.6,1840.0 2653.4,1853.9 2648.2,1857.5C2643.0,1861.1 2621.2,1855.0 2607.2,1851.7C2593.2,1848.5 2579.2,1842.9 2564.3,1838.0C2549.4,1833.1 2522.7,1830.2 2517.5,1822.4C2512.3,1814.6 2532.6,1801.6 2533.1,1791.2C2533.6,1780.8 2522.0,1770.4 2520.6,1760.0C2519.2,1749.6 2521.8,1736.6 2524.5,1728.8C2527.2,1721.0 2539.1,1721.7 2537.0,1713.2C2534.9,1704.8 2517.2,1693.7 2511.7,1678.1C2506.2,1662.5 2505.8,1638.4 2503.9,1619.6C2502.0,1600.8 2503.2,1576.4 2500.0,1565.0C2496.8,1553.6 2488.1,1556.9 2484.4,1551.4C2480.7,1545.9 2477.4,1537.6 2477.7,1531.9C2478.0,1526.2 2481.9,1520.7 2486.3,1517.4C2490.7,1514.2 2499.2,1509.7 2503.9,1512.4C2508.6,1515.1 2506.3,1531.5 2514.4,1533.8C2522.5,1536.1 2545.6,1531.2 2552.6,1526.0C2559.6,1520.8 2555.5,1511.7 2556.5,1502.6C2557.5,1493.5 2558.8,1478.6 2558.5,1471.4C2558.2,1464.2 2556.5,1463.3 2554.6,1459.7C2552.7,1456.1 2549.2,1453.2 2546.8,1450.0C2544.4,1446.8 2540.6,1446.4 2540.1,1440.2C2539.6,1434.0 2539.0,1420.4 2544.0,1412.9C2549.0,1405.4 2561.6,1397.0 2570.2,1395.4Z" fill="#e3e3e3" stroke="#9a9a9a" stroke-width="1.8"/>
  <g fill="none" stroke="#b4b4b4" stroke-width="1.3">
    <path d="M2503.9,1557.2C2505.5,1568.2 2508.1,1601.4 2513.6,1623.5C2519.1,1645.6 2526.6,1667.0 2537.0,1689.8C2547.4,1712.5 2564.9,1736.6 2576.0,1760.0C2587.1,1783.4 2598.8,1818.5 2603.3,1830.2"/>
    <path d="M2513.6,1553.3C2516.2,1564.3 2522.0,1598.1 2529.2,1619.6C2536.3,1641.0 2546.1,1661.2 2556.5,1682.0C2566.9,1702.8 2581.8,1724.9 2591.6,1744.4C2601.3,1763.9 2611.1,1789.9 2615.0,1799.0"/>
    <path d="M2523.4,1549.4C2527.0,1559.8 2536.0,1589.7 2544.8,1611.8C2553.6,1633.9 2570.8,1670.3 2576.0,1682.0"/>
    <path d="M2607.2,1627.4C2605.2,1637.8 2599.4,1674.2 2595.5,1689.8C2591.6,1705.4 2585.8,1715.8 2583.8,1721.0"/>
    <path d="M2558.5,1471.4C2562.7,1469.5 2576.3,1460.4 2583.8,1459.7C2591.3,1459.0 2599.4,1455.2 2603.3,1467.5C2607.2,1479.8 2609.1,1519.5 2607.2,1533.8C2605.2,1548.1 2594.2,1550.0 2591.6,1553.3"/>
  </g>
</g>
<!-- ropes -->
<g id="ropes" fill="none" stroke-linecap="round" stroke-linejoin="round">
  <g stroke="#7d5826" stroke-width="9.5">
    <path id="rp1" d="M2113.7,1120L2142.9,1425.7"/>
    <path id="rp2" d="M2113,1108L2619,1366L3303,1712"/>
    <path id="rp3" d="M3306,1716L2645,1545"/>
    <path id="rp4" d="M2645,1545C2650,1520 2640,1505 2634,1500 M2645,1545C2620,1565 2580,1565 2563,1558"/>
    <path id="rp5" d="M2862,1917.5L2640,1800C2650,1780 2630,1775 2622,1782 M2640,1800C2600,1815 2545,1800 2522,1770"/>
  </g>
  <g stroke="#bb9843" stroke-width="6.4"><use href="#rp1"/><use href="#rp2"/><use href="#rp3"/><use href="#rp4"/><use href="#rp5"/></g>
  <g stroke="#a5833a" stroke-width="6.4" stroke-dasharray="2.5 4" stroke-linecap="butt"><use href="#rp1"/><use href="#rp2"/><use href="#rp3"/><use href="#rp4"/><use href="#rp5"/></g>
  <circle cx="2143.3" cy="1429" r="5.5" fill="#1a1a1a"/>
</g>
<use href="#pulley" x="2109.5" y="1106"/>
<use href="#pulley" x="2618.7" y="1361.9"/>
<use href="#pulley" x="3308.3" y="1715.9"/>

<!-- FLOOR ITEMS -->
<g id="floordash" fill="none" stroke="#111" stroke-width="1.8" stroke-dasharray="13 8">
  <polygon points="1688,1597 2557,2114 2557,2205 1713,1717"/>
</g>
<!-- dashed frame + dark object -->
<g id="helmbox">
  <g fill="none" stroke="#111" stroke-width="1.6" stroke-dasharray="10 6">
    <polygon points="2627.6,2018.5 2760.8,2072.6 2760.8,2237 2627.6,2172"/>
    <polyline points="2627.6,2018.5 2645.2,2012.3 2786,2068.8 2760.8,2072.6"/>
    <polyline points="2786,2068.8 2786,2235 2760.8,2237"/>
  </g>
  <path d="M2630.7,2102.6C2634.5,2091.6 2643.9,2077.3 2657.1,2069.6C2670.3,2061.9 2692.4,2054.1 2710.1,2056.3C2727.8,2058.5 2751.8,2071.8 2763.0,2082.8C2774.2,2093.8 2775.8,2108.2 2777.5,2122.5C2779.2,2136.8 2778.6,2155.6 2772.9,2168.8C2767.2,2182.0 2755.8,2200.8 2743.1,2201.9C2730.4,2203.0 2711.1,2180.9 2696.8,2175.4C2682.5,2169.9 2667.6,2175.4 2657.1,2168.8C2646.6,2162.2 2638.4,2146.7 2634.0,2135.7C2629.6,2124.7 2626.8,2113.6 2630.7,2102.6Z" fill="#05051f" stroke="#000" stroke-width="3"/>
  <path d="M2630.7,2102.6C2632.3,2096.5 2636.2,2091.6 2643.9,2092.7C2651.6,2093.8 2666.0,2104.3 2677.0,2109.3C2688.0,2114.3 2702.4,2118.1 2710.1,2122.5C2717.8,2126.9 2722.2,2130.8 2723.3,2135.7C2724.4,2140.6 2722.2,2149.1 2716.7,2152.2C2711.2,2155.3 2700.1,2156.4 2690.2,2154.2C2680.3,2152.0 2666.5,2143.2 2657.1,2139.0C2647.7,2134.8 2638.4,2135.2 2634.0,2129.1C2629.6,2123.0 2629.0,2108.7 2630.7,2102.6Z" fill="#4a4a5e" stroke="#000" stroke-width="3"/>
  <path d="M2700,2075 Q2730,2070 2766,2090" fill="none" stroke="#ddd" stroke-width="1.5"/>
</g>
<!-- small speaker -->
<g id="spk2" stroke="#333" stroke-width="1.3" stroke-linejoin="round">
  <polygon points="2903.6,2165.5 2959.1,2190.5 2921.4,2227 2863.9,2201.2" fill="#dcdcdc"/>
  <polygon points="2863.9,2201.2 2921.4,2227 2920.6,2309.5 2865,2284.5" fill="#dadada"/>
  <polygon points="2921.4,2227 2959.1,2190.5 2951.2,2274.6 2920.6,2309.5" fill="#d6d6d6"/>
  <path d="M2874,2165q-6,10 -3,22M2882,2170q-5,8 -3,18M2968,2200q10,12 8,30M2974,2196q12,14 10,34" fill="none" stroke="#222" stroke-width="1.5"/>
</g>
<g font-family="'DejaVu Sans',sans-serif" fill="#111">
  <text x="2893" y="2162" font-size="36" font-weight="bold">♫</text>
  <text x="2960" y="2192" font-size="34" font-weight="bold" transform="rotate(15 2970 2180)">♪</text>
</g>
<!-- pink panel -->
<g id="pinkq">
  <polygon points="3098,2123.8 3046.4,2310.3 2943.3,2471 2992,2286.5" fill="#f4b0cc"/>
  <polygon points="3098,2123.8 3046.4,2310.3 2943.3,2471 2992,2286.5" fill="none" stroke="#111" stroke-width="1.8" stroke-dasharray="11 6"/>
  <line x1="3044.4" y1="2207" x2="3000.8" y2="2377.8" stroke="#111" stroke-width="1.8" stroke-dasharray="11 6"/>
</g>
<!-- floor figure (abstract silhouette) -->
<g id="figfloor" fill="#06061f"><path d="M2655.3,1959.5C2655.3,1954.9 2670.2,1932.9 2675.4,1928.1C2680.6,1923.3 2683.6,1928.7 2686.7,1930.6C2689.8,1932.5 2689.0,1936.9 2694.2,1939.4C2699.4,1941.9 2708.7,1943.4 2718.1,1945.7C2727.5,1948.0 2742.0,1950.9 2750.8,1953.2C2759.6,1955.5 2766.9,1963.3 2770.9,1959.5C2774.9,1955.7 2771.3,1940.0 2774.7,1930.6C2778.0,1921.2 2785.3,1909.4 2791.0,1902.9C2796.7,1896.4 2809.4,1894.1 2808.6,1891.6C2807.8,1889.1 2794.8,1890.2 2786.0,1887.9C2777.2,1885.6 2764.2,1879.3 2755.8,1877.8C2747.4,1876.3 2737.2,1881.4 2735.7,1879.1C2734.2,1876.8 2743.4,1865.5 2747.0,1864.0C2750.6,1862.5 2749.8,1867.0 2757.1,1870.3C2764.4,1873.6 2780.8,1881.2 2791.0,1884.1C2801.2,1887.0 2810.6,1885.6 2818.6,1887.9C2826.6,1890.2 2832.9,1894.6 2838.8,1897.9C2844.7,1901.2 2847.5,1904.8 2853.8,1908.0C2860.1,1911.2 2866.4,1914.3 2876.5,1916.8C2886.6,1919.3 2902.4,1920.7 2914.1,1923.0C2925.8,1925.3 2939.2,1929.5 2946.8,1930.6C2954.4,1931.6 2954.4,1928.0 2959.4,1929.3C2964.4,1930.5 2972.8,1933.7 2977.0,1938.1C2981.2,1942.5 2984.5,1949.8 2984.5,1955.7C2984.5,1961.6 2980.8,1968.1 2977.0,1973.3C2973.2,1978.5 2967.3,1985.8 2961.9,1987.1C2956.5,1988.3 2951.0,1981.8 2944.3,1980.8C2937.6,1979.8 2929.6,1978.3 2921.7,1980.8C2913.8,1983.3 2906.2,1995.1 2896.6,1995.9C2887.0,1996.8 2875.6,1990.5 2863.9,1985.9C2852.2,1981.3 2835.4,1970.8 2826.2,1968.3C2817.0,1965.8 2812.8,1967.0 2808.6,1970.8C2804.4,1974.6 2805.7,1986.3 2801.1,1990.9C2796.5,1995.5 2787.6,1999.2 2780.9,1998.4C2774.2,1997.6 2768.3,1990.5 2760.8,1985.9C2753.3,1981.3 2745.8,1975.4 2735.7,1970.8C2725.6,1966.2 2710.6,1960.7 2700.5,1958.2C2690.4,1955.7 2682.9,1955.5 2675.4,1955.7C2667.9,1955.9 2655.3,1964.1 2655.3,1959.5Z"/><path d="M2896.6,1980.8C2901.2,1976.6 2917.7,1974.1 2921.7,1980.8C2925.7,1987.5 2920.0,2009.4 2920.4,2021.1C2920.8,2032.8 2921.0,2040.3 2924.2,2051.2C2927.3,2062.1 2934.7,2078.8 2939.3,2086.4C2943.9,2094.0 2946.8,2094.4 2951.8,2096.5C2956.8,2098.6 2965.2,2096.9 2969.4,2099.0C2973.6,2101.1 2977.0,2105.7 2977.0,2109.0C2977.0,2112.3 2971.9,2118.7 2969.4,2119.1C2966.9,2119.5 2966.1,2112.8 2961.9,2111.5C2957.7,2110.2 2949.8,2114.0 2944.3,2111.5C2938.9,2109.0 2935.1,2104.9 2929.2,2096.5C2923.3,2088.1 2914.5,2071.8 2909.1,2061.3C2903.7,2050.8 2899.1,2042.8 2896.6,2033.6C2894.1,2024.4 2894.0,2014.8 2894.0,2006.0C2894.0,1997.2 2892.0,1985.0 2896.6,1980.8Z"/><path d="M2972.0,1945.7C2975.3,1943.6 2985.0,1954.9 2992.1,1960.7C2999.2,1966.5 3007.2,1977.0 3014.7,1980.8C3022.2,1984.6 3030.6,1981.7 3037.3,1983.4C3044.0,1985.1 3051.1,1988.4 3054.9,1990.9C3058.7,1993.4 3060.7,1996.5 3059.9,1998.4C3059.1,2000.3 3053.7,1999.5 3049.9,2002.2C3046.1,2004.9 3041.1,2014.0 3037.3,2014.8C3033.5,2015.6 3029.7,2010.3 3027.2,2007.2C3024.7,2004.1 3027.2,1998.6 3022.2,1995.9C3017.2,1993.2 3005.5,1994.7 2997.1,1990.9C2988.7,1987.1 2976.2,1980.8 2972.0,1973.3C2967.8,1965.8 2968.7,1947.8 2972.0,1945.7Z"/></g>
<g fill="none" stroke-linecap="round"><path d="M2690,1847L2851,1938" stroke="#7d5826" stroke-width="9.5"/><path d="M2690,1847L2851,1938" stroke="#bb9843" stroke-width="6.4"/><path d="M2690,1847L2851,1938" stroke="#a5833a" stroke-width="6.4" stroke-dasharray="2.5 4" stroke-linecap="butt"/></g>
<g id="knot1" fill="none" stroke-linecap="round">
  <g stroke="#7d5826" stroke-width="9"><path id="kn" d="M2851,1940 q-30,20 -18,45 M2851,1940 q-12,25 8,52 M2851,1940 q10,25 25,50 M2851,1940 q10,-30 30,-25 M2851,1940 q25,-25 50,-15"/></g>
  <use href="#kn" stroke="#bb9843" stroke-width="5.6"/>
</g>
<!-- RIGHT STATUE (outside) -->
<g id="statueBig">
  <path d="M3511.4,2252.8 v62.5 a141,36.9 0 0 0 282,0 v-62.5 z" fill="#e0e0e0" stroke="#8e8e8e" stroke-width="2.2"/>
  <ellipse cx="3652.4" cy="2252.8" rx="141" ry="36.9" fill="#e6e6e6" stroke="#8e8e8e" stroke-width="2.2"/>
  <path d="M3579.7,1553.9C3587.1,1553.9 3600.1,1556.4 3607.2,1559.2C3614.2,1562.0 3618.1,1566.8 3622.0,1570.8C3625.9,1574.8 3627.7,1581.7 3630.5,1583.5C3633.3,1585.3 3635.4,1581.6 3638.9,1581.4C3642.4,1581.2 3648.6,1580.6 3651.6,1582.4C3654.6,1584.2 3656.4,1587.6 3656.9,1592.0C3657.4,1596.4 3656.4,1603.6 3654.8,1608.9C3653.2,1614.2 3650.4,1620.7 3647.4,1623.7C3644.4,1626.7 3639.5,1626.7 3636.8,1626.9C3634.2,1627.1 3633.1,1623.6 3631.5,1624.8C3629.9,1626.0 3628.2,1631.5 3627.3,1634.3C3626.4,1637.1 3624.3,1638.7 3626.2,1641.7C3628.1,1644.7 3633.9,1647.5 3638.9,1652.3C3643.9,1657.1 3651.0,1663.8 3655.9,1670.3C3660.8,1676.8 3664.7,1684.0 3668.6,1691.4C3672.5,1698.8 3676.4,1707.3 3679.2,1714.7C3682.0,1722.1 3683.9,1728.9 3685.5,1735.9C3687.1,1743.0 3687.3,1749.6 3688.7,1757.0C3690.1,1764.4 3691.3,1771.1 3694.0,1780.3C3696.7,1789.5 3703.3,1805.2 3704.6,1812.1C3705.9,1818.9 3698.3,1811.9 3701.8,1821.4C3705.3,1830.9 3721.1,1857.1 3725.6,1869.0C3730.1,1880.9 3730.1,1883.9 3728.6,1892.8C3727.1,1901.7 3721.2,1909.6 3716.7,1922.5C3712.2,1935.4 3706.3,1953.2 3701.8,1970.1C3697.3,1987.0 3690.9,2006.8 3689.9,2023.7C3688.9,2040.6 3693.4,2055.4 3695.9,2071.3C3698.4,2087.2 3700.8,2102.0 3704.8,2118.9C3708.8,2135.8 3713.8,2157.6 3719.7,2172.5C3725.6,2187.4 3735.7,2195.3 3740.5,2208.2C3745.3,2221.1 3758.7,2240.9 3748.3,2249.8C3737.9,2258.7 3702.6,2260.2 3678.0,2261.7C3653.4,2263.2 3621.0,2261.7 3600.7,2258.7C3580.4,2255.7 3560.5,2253.3 3556.0,2243.9C3551.5,2234.5 3571.9,2217.1 3573.9,2202.2C3575.9,2187.3 3571.9,2170.5 3567.9,2154.6C3563.9,2138.7 3552.1,2120.9 3550.1,2107.0C3548.1,2093.1 3553.0,2081.2 3556.0,2071.3C3559.0,2061.4 3571.4,2057.4 3567.9,2047.5C3564.4,2037.6 3543.6,2029.6 3535.2,2011.8C3526.8,1994.0 3521.4,1962.2 3517.4,1940.4C3513.4,1918.6 3513.9,1900.7 3511.4,1880.9C3508.9,1861.1 3509.5,1836.4 3502.5,1821.4C3495.5,1806.4 3476.1,1798.5 3469.6,1790.9C3463.1,1783.4 3463.0,1781.8 3463.3,1776.1C3463.7,1770.4 3467.5,1762.3 3471.7,1757.0C3475.9,1751.7 3483.4,1747.1 3488.7,1744.3C3494.0,1741.5 3499.4,1738.7 3503.5,1740.1C3507.6,1741.5 3511.6,1748.9 3513.0,1752.8C3514.4,1756.7 3510.8,1759.9 3512.0,1763.4C3513.2,1766.9 3515.8,1773.0 3520.4,1774.0C3525.0,1775.0 3532.4,1772.9 3539.5,1769.7C3546.6,1766.5 3556.5,1758.8 3562.8,1754.9C3569.2,1751.0 3576.2,1749.3 3577.6,1746.5C3579.0,1743.7 3573.3,1741.5 3571.2,1738.0C3569.1,1734.5 3565.4,1729.9 3564.9,1725.3C3564.4,1720.7 3567.7,1716.5 3568.0,1710.5C3568.3,1704.5 3567.5,1695.6 3567.0,1689.3C3566.5,1683.0 3564.9,1677.7 3564.9,1672.4C3564.9,1667.1 3568.1,1661.7 3567.0,1657.6C3565.9,1653.5 3560.4,1650.8 3558.5,1648.0C3556.6,1645.2 3556.4,1642.9 3555.3,1640.6C3554.2,1638.3 3554.1,1636.4 3552.2,1634.3C3550.3,1632.2 3544.6,1630.7 3543.7,1627.9C3542.8,1625.1 3546.6,1621.3 3546.9,1617.4C3547.2,1613.5 3546.3,1609.7 3545.8,1604.7C3545.3,1599.8 3543.0,1593.4 3543.7,1587.7C3544.4,1582.0 3546.9,1575.5 3550.1,1570.8C3553.3,1566.0 3557.9,1562.0 3562.8,1559.2C3567.7,1556.4 3572.3,1553.9 3579.7,1553.9Z" fill="#e3e3e3" stroke="#9a9a9a" stroke-width="2"/>
  <polygon points="3559,1809 3596,1794.6 3596,1863 3582.8,1895.7" fill="#fff" stroke="#9a9a9a" stroke-width="1.5"/>
  <g fill="none" stroke="#a8a8a8" stroke-width="1.4"><path d="M3592.4,1603.6C3593.4,1603.1 3596.9,1599.5 3598.7,1600.4C3600.5,1601.3 3603.0,1605.7 3603.0,1608.9C3603.0,1612.1 3599.4,1617.7 3598.7,1619.5"/><path d="M3550.1,1583.5C3552.9,1584.5 3561.4,1586.3 3567.0,1589.8C3572.6,1593.3 3579.7,1600.5 3583.9,1604.7C3588.1,1608.9 3591.0,1613.5 3592.4,1615.2"/><path d="M3569.1,1562.3C3571.6,1564.4 3578.6,1571.5 3583.9,1575.0C3589.2,1578.5 3594.5,1581.7 3600.8,1583.5C3607.2,1585.3 3618.5,1585.2 3622.0,1585.6"/><path d="M3631.5,1583.5C3631.0,1587.0 3628.4,1597.8 3628.4,1604.7C3628.4,1611.6 3631.0,1621.5 3631.5,1624.8"/><path d="M3569.1,1655.4C3572.3,1653.3 3581.4,1645.4 3588.1,1642.8C3594.8,1640.2 3603.0,1639.8 3609.3,1639.6C3615.7,1639.4 3623.4,1641.3 3626.2,1641.7"/><path d="M3615.7,1657.6C3618.2,1662.9 3626.6,1677.0 3630.5,1689.3C3634.4,1701.6 3637.5,1719.2 3638.9,1731.6C3640.3,1743.9 3645.2,1753.9 3638.9,1763.4C3632.6,1772.9 3616.3,1783.5 3600.8,1788.8C3585.3,1794.1 3561.0,1793.3 3545.8,1795.1C3530.6,1796.9 3515.8,1798.7 3509.8,1799.4"/><path d="M3567.0,1689.3C3568.8,1692.8 3573.7,1703.5 3577.6,1710.5C3581.5,1717.5 3588.2,1728.1 3590.3,1731.6"/></g>
  <g fill="none" stroke="#b4b4b4" stroke-width="1.5">
    <path d="M3505.5,1821.4C3509.5,1837.3 3517.4,1880.9 3529.3,1916.6C3541.2,1952.3 3559.1,2000.9 3576.9,2035.6C3594.8,2070.3 3619.6,2095.2 3636.4,2124.9C3653.2,2154.7 3671.1,2199.2 3678.0,2214.1"/>
    <path d="M3520.3,1809.5C3525.8,1827.3 3537.7,1878.9 3553.1,1916.6C3568.5,1954.3 3593.8,2003.9 3612.6,2035.6C3631.4,2067.3 3652.2,2082.2 3666.1,2107.0C3680.0,2131.8 3690.9,2171.5 3695.9,2184.4"/>
    <path d="M3535.2,1797.5C3542.1,1815.4 3560.0,1869.0 3576.9,1904.7C3593.8,1940.4 3626.5,1994.0 3636.4,2011.8"/>
    <path d="M3719.7,1910.6C3712.8,1917.5 3689.9,1935.4 3678.0,1952.3C3666.1,1969.2 3653.2,2001.9 3648.3,2011.8"/>
    
  </g>
</g>
<!-- right figure (abstract) -->
<use href="#figfloor" transform="matrix(1.7513,0.0135,0.0086,1.6690,-769.95,-867.94)"/>
<!-- rope big statue -> figure -->
<g fill="none" stroke-linecap="round" stroke-linejoin="round">
  <g stroke="#7d5826" stroke-width="11"><path id="rpb" d="M3575,2185 C3560,2200 3575,2222 3600,2218 C3650,2212 3700,2205 3735,2188 C3745,2178 3730,2170 3722,2180 M3735,2190 L4256.9,2398"/></g>
  <use href="#rpb" stroke="#bb9843" stroke-width="7.5"/>
  <use href="#rpb" stroke="#9c7a33" stroke-width="7.5" stroke-dasharray="3 5" stroke-linecap="butt"/>
</g>
<use href="#knot1" transform="translate(4256.9,2398) rotate(8) scale(1.66) translate(-2851.3,-1940.6)"/>
<!-- purple dashed arrow -->
<g fill="none" stroke="#9b4dbd" stroke-width="8.5" stroke-linecap="round">
  <line x1="3818.3" y1="2337.5" x2="4556" y2="2603.4" stroke-dasharray="56.5 29.6 69 27 81 15 88.5 10 78.7 74 300"/>
  <polyline points="4493.8,2513.9 4559.3,2604.6 4443.3,2609.7" stroke-linejoin="miter"/>
</g>
<!-- LEFT FIGURE (abstract silhouette) -->
<g id="figleft">
  <path d="M1168.9,1570.7C1158.6,1573.3 1143.0,1582.6 1137.8,1592.4C1132.6,1602.2 1133.6,1619.2 1137.8,1629.6C1142.0,1639.9 1153.4,1649.3 1162.7,1654.5C1172.0,1659.7 1187.5,1656.6 1193.7,1660.7C1199.9,1664.8 1198.4,1667.9 1199.9,1679.3C1201.5,1690.7 1204.0,1713.4 1203.0,1728.9C1202.0,1744.4 1199.4,1761.0 1193.7,1772.4C1188.0,1783.8 1174.6,1790.5 1168.9,1797.2C1163.2,1803.9 1159.6,1807.5 1159.6,1812.7C1159.6,1817.9 1163.2,1827.7 1168.9,1828.2C1174.6,1828.7 1187.5,1821.0 1193.7,1815.8C1199.9,1810.6 1200.9,1805.5 1206.1,1797.2C1211.3,1788.9 1220.6,1778.6 1224.7,1766.2C1228.8,1753.8 1223.7,1731.0 1230.9,1722.7C1238.2,1714.4 1253.7,1714.4 1268.2,1716.5C1282.7,1718.6 1305.4,1729.9 1317.8,1735.1C1330.2,1740.3 1336.4,1737.2 1342.6,1747.5C1348.8,1757.8 1348.8,1776.5 1355.0,1797.2C1361.2,1817.9 1369.6,1851.0 1379.9,1871.7C1390.2,1892.4 1406.8,1908.9 1417.1,1921.3C1427.4,1933.7 1437.8,1933.7 1441.9,1946.1C1446.0,1958.5 1439.8,1983.4 1441.9,1995.8C1444.0,2008.2 1448.6,2017.5 1454.3,2020.6C1460.0,2023.7 1473.0,2022.7 1476.1,2014.4C1479.2,2006.1 1475.1,1985.5 1473.0,1971.0C1470.9,1956.5 1469.9,1944.0 1463.7,1927.5C1457.5,1911.0 1443.5,1889.3 1435.7,1871.7C1427.9,1854.1 1421.2,1838.5 1417.1,1822.0C1413.0,1805.5 1405.7,1776.5 1410.9,1772.4C1416.1,1768.3 1431.5,1790.5 1448.1,1797.2C1464.6,1803.9 1487.4,1807.5 1510.2,1812.7C1533.0,1817.9 1563.0,1823.0 1584.7,1828.2C1606.4,1833.4 1630.2,1844.7 1640.5,1843.7C1650.8,1842.7 1652.9,1828.2 1646.7,1822.0C1640.5,1815.8 1620.9,1811.7 1603.3,1806.5C1585.7,1801.3 1561.9,1795.7 1541.2,1791.0C1520.5,1786.3 1494.7,1782.7 1479.2,1778.6C1463.7,1774.5 1455.3,1775.5 1448.1,1766.2C1440.8,1756.9 1439.8,1737.2 1435.7,1722.7C1431.6,1708.2 1429.5,1690.2 1423.3,1679.3C1417.1,1668.4 1409.9,1660.7 1398.5,1657.6C1387.1,1654.5 1368.5,1658.1 1355.0,1660.7C1341.5,1663.3 1332.3,1675.2 1317.8,1673.1C1303.3,1671.0 1282.7,1655.5 1268.2,1648.2C1253.7,1641.0 1239.2,1636.8 1230.9,1629.6C1222.6,1622.4 1223.7,1613.6 1218.5,1604.8C1213.3,1596.0 1208.2,1582.6 1199.9,1576.9C1191.6,1571.2 1179.2,1568.1 1168.9,1570.7Z" fill="#06061f"/>
  <path d="M1187.5,1576.9C1191.6,1573.3 1204.0,1555.7 1212.3,1555.2C1220.6,1554.7 1230.9,1563.5 1237.1,1573.8C1243.3,1584.1 1245.9,1601.7 1249.5,1617.2C1253.1,1632.7 1257.3,1658.6 1258.9,1666.9" fill="none" stroke="#8a4a22" stroke-width="16" stroke-linecap="round"/>
  <g fill="none" stroke="#7a2a22" stroke-width="9" stroke-linecap="round"><line x1="1178" y1="1798" x2="1196" y2="1812"/><line x1="1592" y1="1808" x2="1588" y2="1840"/><line x1="1437" y1="1932" x2="1462" y2="1926"/></g>
  <g fill="none" stroke="#9a9a9a" stroke-width="6" stroke-dasharray="5 3">
    <polyline points="1162.7,1822.0 1131.6,1853.1 1131.6,1902.7"/><polyline points="1603.3,1834.4 1640.5,1871.7 1652.9,1899.6"/><polyline points="1479.2,1958.6 1497.8,2008.2 1497.8,2051.6"/>
  </g>
  <g fill="#111"><ellipse cx="1132" cy="1906" rx="7" ry="5"/><ellipse cx="1653" cy="1902" rx="9" ry="6"/><ellipse cx="1497" cy="2054" rx="8" ry="5"/></g>
</g>

<!-- BIG CONTROL BOX -->
<g id="ctrlbox" stroke-linejoin="round" stroke-linecap="round">
  <!-- rod -->
  <g id="ctrlrod">
    <line x1="1260.8" y1="2086.3" x2="1500" y2="2204" stroke="#1a1a1a" stroke-width="36"/>
    <line x1="1260.8" y1="2086.3" x2="1500" y2="2204" stroke="#666" stroke-width="32"/>
    <line x1="1493" y1="2201" x2="1660" y2="2288" stroke="#111" stroke-width="62"/>
    <line x1="1493" y1="2201" x2="1660" y2="2288" stroke="#666" stroke-width="57"/>
  </g>
  <polygon points="1587.2,2360.6 1957,2555.6 1951.6,2821 1598,2624.7" fill="#333"/>
  <polygon points="1957,2555.6 2134.5,2347 2117.6,2604.4 1951.6,2821" fill="#646464"/>
  <polygon points="1768.8,2145.2 2134.5,2347 1957,2555.6 1587.2,2360.6" fill="#666"/>
  <g fill="none" stroke="#000" stroke-width="7">
    <polygon points="1768.8,2145.2 2134.5,2347 2117.6,2604.4 1951.6,2821 1598,2624.7 1587.2,2360.6"/>
    <polyline points="1587.2,2360.6 1957,2555.6 2134.5,2347"/>
    <line x1="1957" y1="2555.6" x2="1951.6" y2="2821"/>
  </g>
  <circle cx="2069.7" cy="2348.4" r="16.7" fill="#00ee00"/>
  <circle cx="1940" cy="2500.8" r="18.5" fill="#009cff"/>
  <path d="M1956.2,2369.8L1962.5,2384.1M1943.5,2390.5L1953.8,2398.4M1943.5,2418.3L1953.8,2420.6M1958.6,2443.7L1967.3,2434.1M1979.2,2452.4L1983.2,2435.7M2002.2,2450.0L1997.5,2434.1M2018.9,2430.2L2010.2,2423.8M2018.9,2399.2L2011.7,2404.0M2014.1,2381.7L2005.4,2386.5M1992.7,2363.5L1989.5,2376.2M1976.0,2364.3L1977.1,2376.2" stroke="#f2f2f2" stroke-width="3" fill="none"/>
  <path d="M1957.2,2400 v12 a26,20.6 0 0 0 52,0 v-12 z" fill="#161616"/>
  <ellipse cx="1983.2" cy="2400" rx="26" ry="20.6" fill="#1e1e1e" stroke="#111" stroke-width="1.5"/>
  <line x1="1988" y1="2402.4" x2="2000.6" y2="2411.1" stroke="#eee" stroke-width="4"/>
  <g fill="#f4f4f4" font-size="22" font-style="italic" text-anchor="middle" font-family="'Liberation Sans',sans-serif">
    <text transform="translate(1926,2388) rotate(-68)" y="8">50</text>
    <text transform="translate(1949.8,2354) rotate(-68)" y="8">60</text>
    <text transform="translate(1976,2343.7) rotate(-68)" y="8">70</text>
    <text transform="translate(1999,2350.8) rotate(-68)" y="8">80</text>
    <text transform="translate(2022.9,2366.7) rotate(-68)" y="8">90</text>
    <text transform="translate(2036.3,2399.2) rotate(-68)" y="8">100</text>
    <text transform="translate(2032.4,2437.3) rotate(-68)" y="8">0</text>
    <text transform="translate(2003.8,2465.1) rotate(-68)" y="8">10</text>
    <text transform="translate(1972.9,2470.6) rotate(-68)" y="8">20</text>
    <text transform="translate(1949.8,2460.3) rotate(-68)" y="8">30</text>
    <text transform="translate(1930.8,2431.7) rotate(-68)" y="8">40</text>
  </g>
</g>

<!-- ARROWS -->
<g id="arrows" fill="none" stroke="#8f99ba" stroke-opacity="0.38" stroke-linecap="round" stroke-linejoin="round">
<path d="M1948.0,452.0C1958.5,470.5 1994.3,525.2 2011.0,563.0C2027.7,600.8 2038.3,639.5 2048.0,679.0C2057.7,718.5 2066.0,760.3 2069.0,800.0C2072.0,839.7 2066.5,897.5 2066.0,917.0" stroke-width="5"/>
<polyline points="2113,878 2070,925" stroke-width="5"/>
<path d="M2458.0,506.0C2449.8,523.2 2429.5,560.0 2409.0,609.0C2388.5,658.0 2358.0,732.0 2335.0,800.0C2312.0,868.0 2287.5,951.2 2271.0,1017.0C2254.5,1082.8 2243.3,1136.5 2236.0,1195.0C2228.7,1253.5 2228.5,1339.2 2227.0,1368.0" stroke-width="6"/>
<polyline points="2176,1189 2227,1370 2280,1284" stroke-width="10"/>
<path d="M2600.0,826.0C2591.7,840.0 2565.2,878.2 2550.0,910.0C2534.8,941.8 2524.7,969.5 2509.0,1017.0C2493.3,1064.5 2468.3,1145.5 2456.0,1195.0C2443.7,1244.5 2438.5,1294.2 2435.0,1314.0" stroke-width="6"/>
<polyline points="2396,1231 2436,1317 2477,1219" stroke-width="9"/>
<path d="M1274.0,802.0C1301.3,806.0 1380.8,808.2 1438.0,826.0C1495.2,843.8 1567.3,881.2 1617.0,909.0C1666.7,936.8 1716.2,979.0 1736.0,993.0" stroke-width="5.5"/>
<polyline points="1706,939 1739,997 1664,1024" stroke-width="5"/>
<path d="M880.0,1209.0C908.3,1208.3 988.3,1200.2 1050.0,1205.0C1111.7,1209.8 1189.2,1225.0 1250.0,1238.0C1310.8,1251.0 1373.7,1270.7 1415.0,1283.0C1456.3,1295.3 1481.7,1304.7 1498.0,1312.0C1514.3,1319.3 1510.5,1324.5 1513.0,1327.0" stroke-width="6"/>
<polyline points="1461,1263 1541,1321 1448,1362" stroke-width="8"/>
<path d="M3035.0,951.0C3011.7,955.3 2933.2,963.7 2895.0,977.0C2856.8,990.3 2828.8,1015.5 2806.0,1031.0C2783.2,1046.5 2766.0,1063.5 2758.0,1070.0" stroke-width="6"/>
<polyline points="2791,989 2785,1028 2761,1070" stroke-width="7"/>
<path d="M2898.0,1028.0C2887.7,1029.5 2857.3,1030.5 2836.0,1037.0C2814.7,1043.5 2781.0,1062.0 2770.0,1067.0" stroke-width="6"/>
<path d="M3590.0,1327.0C3574.5,1325.0 3529.0,1314.3 3497.0,1315.0C3465.0,1315.7 3433.2,1321.0 3398.0,1331.0C3362.8,1341.0 3304.7,1367.7 3286.0,1375.0" stroke-width="6"/>
<polyline points="3326,1315 3263,1394 3342,1392" stroke-width="8"/>
<path d="M3401.0,1922.0C3382.8,1919.0 3321.2,1912.5 3292.0,1904.0C3262.8,1895.5 3247.5,1884.7 3226.0,1871.0C3204.5,1857.3 3173.5,1830.2 3163.0,1822.0" stroke-width="5"/>
<polyline points="3259,1838 3160,1822 3203,1904" stroke-width="4"/>
<path d="M3193.0,2562.0C3188.5,2547.2 3179.3,2501.0 3166.0,2473.0C3152.7,2445.0 3131.7,2415.5 3113.0,2394.0C3094.3,2372.5 3063.8,2352.3 3054.0,2344.0" stroke-width="5"/>
<polyline points="3123,2361 3051,2341 3054,2387" stroke-width="3.5"/>
<path d="M2804.0,2727.0C2796.0,2705.8 2769.5,2644.5 2756.0,2600.0C2742.5,2555.5 2730.2,2505.5 2723.0,2460.0C2715.8,2414.5 2714.0,2370.7 2713.0,2327.0C2712.0,2283.3 2716.3,2219.5 2717.0,2198.0" stroke-width="6.5"/>
<polyline points="2660,2261 2717,2195 2786,2311" stroke-width="3.5"/>
<path d="M2359.0,2476.0C2363.5,2451.2 2373.8,2370.5 2386.0,2327.0C2398.2,2283.5 2415.0,2247.5 2432.0,2215.0C2449.0,2182.5 2478.7,2145.8 2488.0,2132.0" stroke-width="5.5"/>
<polyline points="2412,2179 2488,2132 2475,2235" stroke-width="3.5"/>
<path d="M1915.0,2162.0C1921.8,2151.7 1926.3,2136.3 1956.0,2100.0C1985.7,2063.7 2050.3,1989.8 2093.0,1944.0C2135.7,1898.2 2174.8,1861.7 2212.0,1825.0C2249.2,1788.3 2298.7,1740.8 2316.0,1724.0" stroke-width="5"/>
<polyline points="2236,1739 2316,1724 2292,1855" stroke-width="6"/>
<path d="M1539.0,1777.0C1571.8,1767.2 1673.5,1744.7 1736.0,1718.0C1798.5,1691.3 1864.5,1647.8 1914.0,1617.0C1963.5,1586.2 2009.2,1550.8 2033.0,1533.0C2056.8,1515.2 2053.0,1513.8 2057.0,1510.0" stroke-width="7"/>
<polyline points="1938,1533 2057,1510 2021,1611" stroke-width="10"/>
</g>

<!-- faint watermark -->
<g font-family="'Liberation Serif',serif" font-size="78" fill="#fafafa">
  <text x="4453" y="2844" textLength="198" lengthAdjust="spacingAndGlyphs">LUST</text>
  <text transform="translate(4453,2846) scale(1,-1)" textLength="198" lengthAdjust="spacingAndGlyphs">LUST</text>
</g>

</svg>
</body></html>
